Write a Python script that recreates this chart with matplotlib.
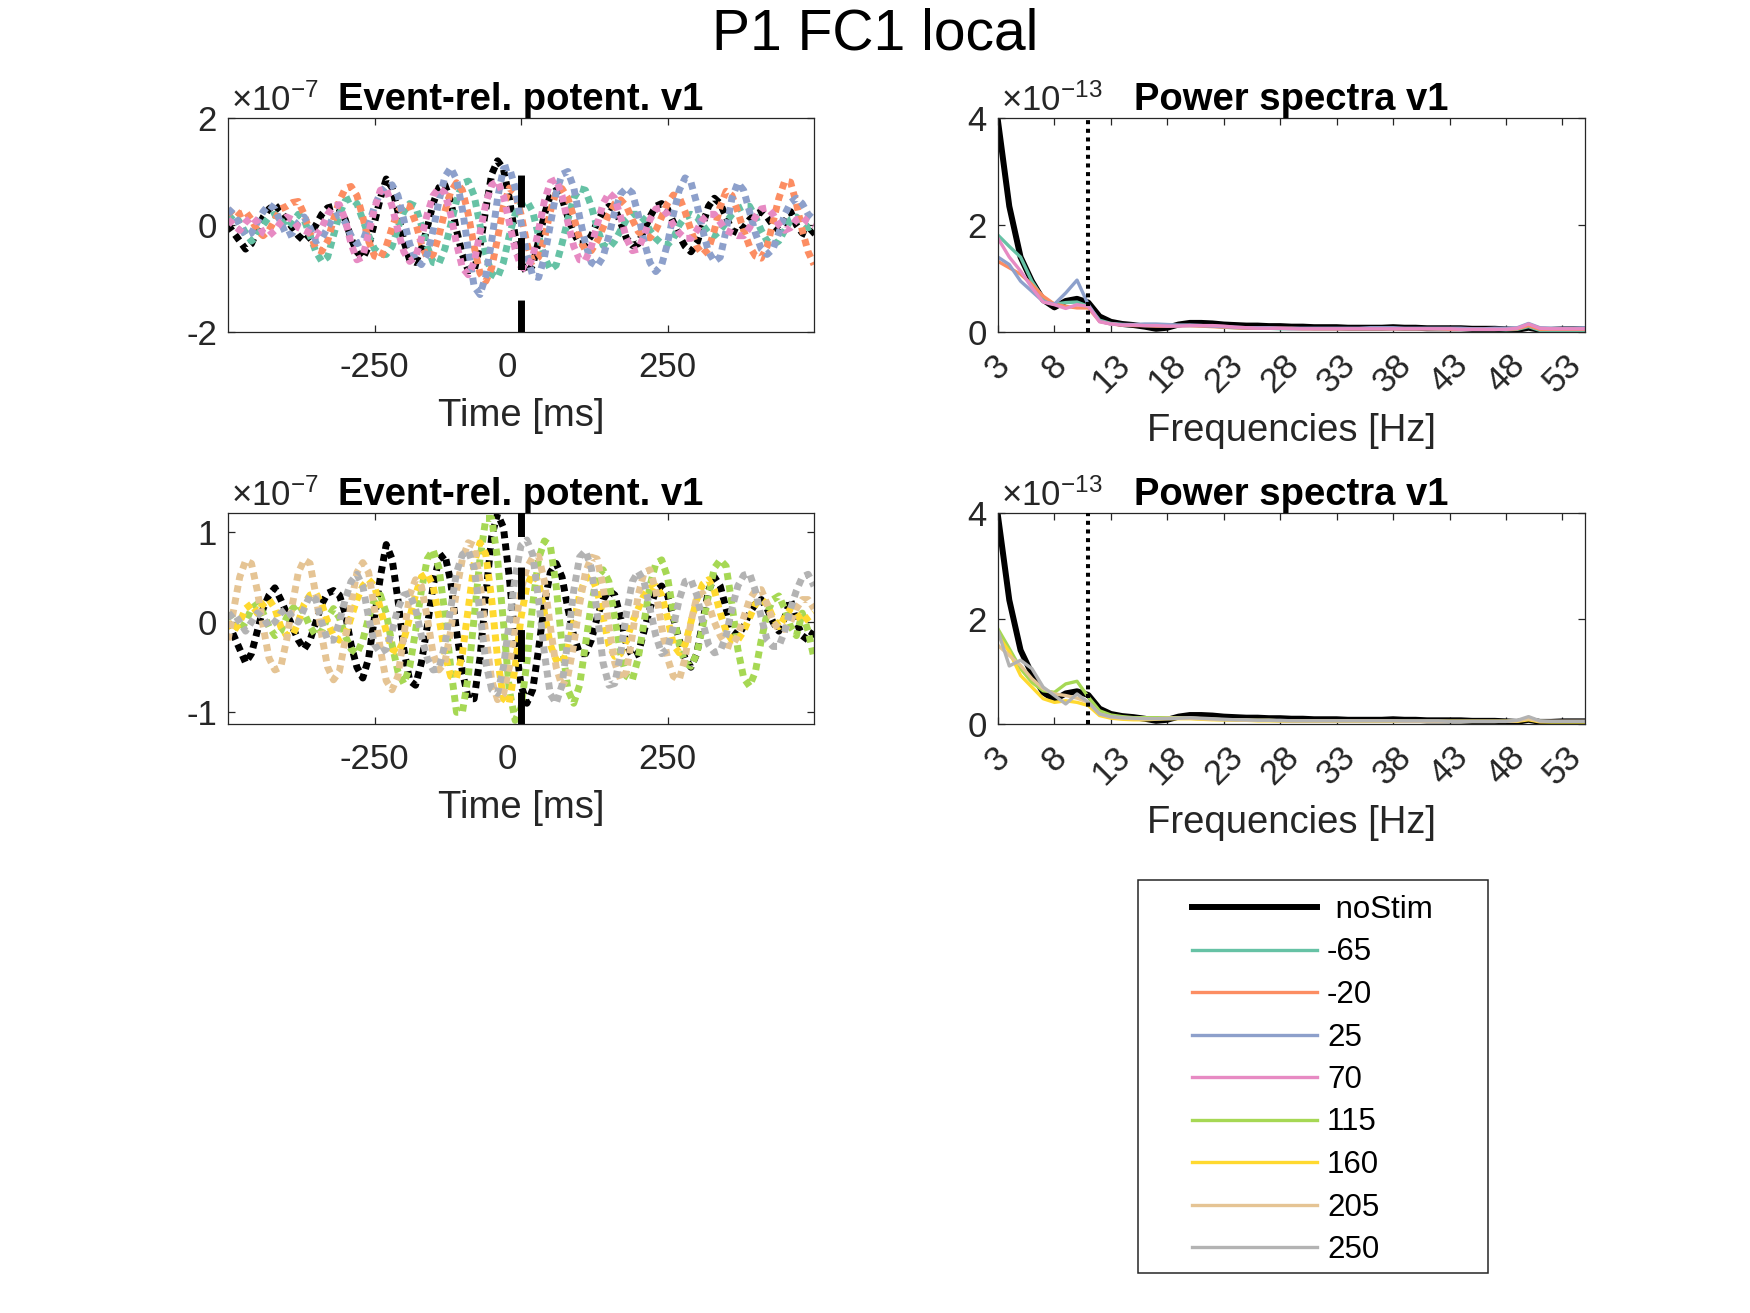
import numpy as np
import matplotlib
matplotlib.use('Agg')
import matplotlib.pyplot as plt
from matplotlib.patches import Rectangle
from matplotlib.transforms import ScaledTranslation

plt.rcParams['font.family'] = ['Liberation Sans', 'DejaVu Sans']
plt.rcParams['mathtext.fontset'] = 'custom'
plt.rcParams['mathtext.rm'] = 'Liberation Sans'
plt.rcParams['mathtext.it'] = 'Liberation Sans:italic'
plt.rcParams['mathtext.bf'] = 'Liberation Sans:bold'
plt.rcParams['axes.unicode_minus'] = False

# ---------------- data ----------------
SUPTITLE = 'P1 FC1 local'
CONDITIONS = ['-65', '-20', '25', '70', '115', '160', '205', '250']
COLORS = ['#66c2a5', '#fc8d62', '#8da0cb', '#e78ac3',
          '#a6d854', '#ffd92f', '#e5c494', '#b3b3b3']
NOSTIM_LABEL = ' noStim'

ERP_T = list(range(-500, 501, 10))          # ms
ERP_XTICKS = [-250, 0, 250]
STIM_T = 0

# ERP values in units of 1e-7
ERP_NOSTIM = [
    0.0, -0.15, -0.3, -0.45, -0.35, -0.1, 0.15, 0.3, 0.38, 0.25,
    0.1, -0.05, -0.2, -0.3, -0.2, 0.0, 0.2, 0.32, 0.35, 0.3,
    0.1, -0.25, -0.5, -0.62, -0.4, 0.05, 0.5, 0.86, 0.7, 0.25,
    -0.3, -0.65, -0.7, -0.45, -0.05, 0.4, 0.7, 0.75, 0.45, -0.1,
    -0.55, -0.85, -0.85, -0.4, 0.3, 0.95, 1.2, 1.05, 0.5, -0.2,
    -0.7, -0.9, -0.75, -0.3, 0.2, 0.55, 0.65, 0.5, 0.15, -0.15,
    -0.35, -0.35, -0.2, 0.05, 0.25, 0.35, 0.3, 0.05, -0.25, -0.38,
    -0.35, -0.1, 0.15, 0.35, 0.4, 0.3, 0.05, -0.2, -0.4, -0.5,
    -0.35, 0.0, 0.35, 0.5, 0.4, 0.15, -0.1, -0.15, -0.05, 0.1,
    0.2, 0.25, 0.15, 0.0, -0.1, 0.05, 0.25, 0.0, -0.15, -0.2,
    -0.1]
ERP_M65 = [
    0.1, 0.2, 0.05, -0.15, -0.3, -0.2, 0.0, 0.15, 0.2, 0.1,
    -0.05, 0.05, 0.2, 0.1, -0.2, -0.5, -0.68, -0.6, -0.2, 0.2,
    0.45, 0.5, 0.4, 0.1, -0.2, -0.45, -0.55, -0.55, -0.4, -0.05,
    0.25, 0.4, 0.35, 0.0, -0.4, -0.7, -0.72, -0.45, 0.0, 0.45,
    0.78, 0.82, 0.55, 0.0, -0.55, -0.92, -0.98, -0.7, -0.2, 0.2,
    0.4, 0.45, 0.25, -0.2, -0.6, -0.83, -0.75, -0.35, 0.1, 0.5,
    0.68, 0.65, 0.35, -0.05, -0.38, -0.43, -0.3, -0.1, 0.1, 0.2,
    0.2, 0.1, -0.1, -0.25, -0.35, -0.37, -0.25, 0.0, 0.15, 0.2,
    0.15, 0.0, -0.15, -0.2, -0.1, 0.05, 0.2, 0.3, 0.35, 0.35,
    0.15, -0.1, -0.3, -0.37, -0.3, -0.1, 0.1, 0.15, 0.05, -0.05,
    0.0]
ERP_M20 = [
    0.2, 0.3, 0.2, 0.25, 0.1, -0.1, -0.2, -0.1, 0.1, 0.3,
    0.35, 0.42, 0.44, 0.2, -0.15, -0.45, -0.49, -0.3, 0.1, 0.45,
    0.68, 0.72, 0.55, 0.15, -0.3, -0.58, -0.62, -0.4, -0.05, 0.25,
    0.38, 0.35, 0.05, -0.35, -0.62, -0.55, -0.2, 0.25, 0.62, 0.79,
    0.65, 0.2, -0.4, -0.9, -1.05, -0.8, -0.25, 0.35, 0.69, 0.6,
    0.2, -0.35, -0.68, -0.6, -0.25, 0.25, 0.62, 0.68, 0.5, 0.15,
    -0.25, -0.48, -0.48, -0.3, -0.05, 0.2, 0.4, 0.47, 0.35, 0.1,
    -0.12, -0.22, -0.24, -0.1, 0.15, 0.4, 0.56, 0.52, 0.25, -0.1,
    -0.4, -0.55, -0.45, -0.1, 0.35, 0.63, 0.55, 0.25, -0.1, -0.4,
    -0.58, -0.62, -0.4, 0.05, 0.5, 0.82, 0.8, 0.4, -0.1, -0.5,
    -0.74]
ERP_25 = [
    0.3, 0.2, 0.0, -0.2, -0.15, 0.05, 0.25, 0.38, 0.3, 0.05,
    -0.2, -0.15, 0.05, 0.15, -0.05, -0.3, -0.25, -0.05, 0.15, 0.2,
    0.05, -0.2, -0.35, -0.3, 0.0, 0.35, 0.6, 0.72, 0.75, 0.55,
    0.1, -0.35, -0.65, -0.74, -0.55, -0.1, 0.45, 0.9, 1.07, 0.85,
    0.3, -0.45, -1.15, -1.3, -0.95, -0.3, 0.5, 1.05, 1.08, 0.7,
    0.05, -0.55, -0.95, -0.98, -0.6, 0.0, 0.6, 0.95, 1.0, 0.7,
    0.15, -0.35, -0.7, -0.77, -0.6, -0.2, 0.25, 0.58, 0.69, 0.6,
    0.2, -0.3, -0.7, -0.87, -0.75, -0.35, 0.2, 0.65, 0.88, 0.8,
    0.4, -0.1, -0.5, -0.68, -0.6, -0.1, 0.5, 0.79, 0.65, 0.25,
    -0.15, -0.45, -0.55, -0.45, -0.15, 0.2, 0.42, 0.5, 0.4, 0.2,
    0.1]
ERP_70 = [
    0.1, 0.0, -0.1, 0.05, 0.15, 0.05, -0.15, -0.2, -0.1, 0.05,
    0.15, 0.1, -0.05, -0.1, -0.15, -0.2, -0.05, 0.2, 0.35, 0.38,
    0.1, -0.35, -0.65, -0.6, -0.15, 0.3, 0.65, 0.68, 0.35, -0.1,
    -0.5, -0.68, -0.6, -0.25, 0.2, 0.55, 0.69, 0.6, 0.2, -0.35,
    -0.8, -0.93, -0.7, -0.15, 0.4, 0.75, 0.82, 0.55, 0.05, -0.45,
    -0.78, -0.83, -0.6, -0.1, 0.45, 0.8, 0.85, 0.55, 0.05, -0.4,
    -0.65, -0.66, -0.4, 0.0, 0.4, 0.6, 0.5, 0.15, -0.25, -0.48,
    -0.45, -0.2, 0.1, 0.3, 0.32, 0.2, 0.0, -0.15, -0.25, -0.25,
    -0.1, 0.1, 0.2, 0.2, 0.05, -0.1, -0.15, -0.2, -0.2, -0.05,
    0.15, 0.3, 0.32, 0.2, 0.0, -0.1, -0.05, 0.1, 0.15, 0.05,
    0.0]
ERP_115 = [
    0.1, 0.0, -0.1, 0.0, 0.15, 0.2, 0.1, -0.05, -0.15, -0.1,
    0.05, 0.15, 0.2, 0.1, -0.05, -0.15, -0.1, 0.05, 0.15, 0.05,
    -0.15, -0.3, -0.35, -0.2, 0.05, 0.25, 0.3, 0.1, -0.25, -0.55,
    -0.68, -0.5, -0.1, 0.35, 0.7, 0.8, 0.6, 0.1, -0.5, -1.0,
    -1.0, -0.6, 0.05, 0.7, 1.15, 1.15, 0.7, 0.0, -0.75, -1.09,
    -0.95, -0.45, 0.2, 0.7, 0.9, 0.85, 0.4, -0.25, -0.75, -0.9,
    -0.7, -0.25, 0.2, 0.5, 0.58, 0.45, 0.05, -0.35, -0.6, -0.64,
    -0.4, 0.0, 0.4, 0.65, 0.69, 0.5, 0.1, -0.25, -0.45, -0.49,
    -0.35, -0.05, 0.3, 0.6, 0.69, 0.62, 0.2, -0.3, -0.62, -0.71,
    -0.55, -0.2, 0.1, 0.25, 0.29, 0.15, -0.05, -0.15, 0.1, -0.1,
    -0.4]
ERP_160 = [
    0.0, -0.1, 0.0, 0.15, 0.2, 0.1, 0.2, 0.25, 0.15, -0.05,
    -0.15, -0.15, 0.0, 0.2, 0.3, 0.32, 0.2, 0.0, -0.15, -0.2,
    -0.15, 0.05, 0.25, 0.4, 0.47, 0.4, 0.15, -0.1, -0.3, -0.34,
    -0.2, 0.05, 0.3, 0.5, 0.54, 0.4, 0.05, -0.35, -0.6, -0.62,
    -0.35, 0.15, 0.65, 0.88, 0.75, 0.25, -0.4, -0.85, -0.9, -0.5,
    0.05, 0.4, 0.54, 0.45, 0.1, -0.25, -0.42, -0.46, -0.3, 0.0,
    0.3, 0.48, 0.51, 0.35, 0.05, -0.25, -0.38, -0.35, -0.2, 0.0,
    0.15, 0.3, 0.38, 0.4, 0.3, 0.05, -0.25, -0.34, -0.25, 0.0,
    0.25, 0.42, 0.47, 0.35, 0.1, -0.1, -0.2, -0.2, -0.1, 0.05,
    0.2, 0.25, 0.2, 0.05, -0.05, 0.05, 0.15, 0.1, 0.0, 0.05,
    0.1]
ERP_205 = [
    -0.2, 0.15, 0.5, 0.68, 0.65, 0.35, -0.05, -0.4, -0.53, -0.5,
    -0.2, 0.2, 0.55, 0.69, 0.65, 0.3, -0.15, -0.5, -0.64, -0.55,
    -0.2, 0.2, 0.55, 0.66, 0.55, 0.15, -0.3, -0.65, -0.75, -0.6,
    -0.15, 0.3, 0.47, 0.4, 0.05, -0.35, -0.53, -0.45, -0.1, 0.35,
    0.7, 0.88, 0.85, 0.45, -0.15, -0.65, -0.86, -0.8, -0.5, -0.05,
    0.35, 0.6, 0.72, 0.73, 0.45, -0.05, -0.5, -0.71, -0.6, -0.25,
    0.2, 0.55, 0.72, 0.7, 0.4, -0.05, -0.45, -0.64, -0.55, -0.15,
    0.3, 0.55, 0.58, 0.35, -0.05, -0.4, -0.6, -0.64, -0.4, 0.0,
    0.28, 0.32, 0.2, 0.0, -0.15, -0.25, -0.27, -0.15, 0.05, 0.25,
    0.35, 0.36, 0.2, 0.0, -0.08, -0.08, 0.0, 0.15, 0.25, 0.25,
    0.15]
ERP_250 = [
    0.05, 0.1, 0.0, -0.1, 0.0, 0.1, 0.05, -0.05, 0.0, 0.1,
    0.15, 0.05, 0.0, 0.15, 0.3, 0.25, 0.0, -0.2, -0.2, 0.0,
    0.25, 0.45, 0.53, 0.4, 0.05, -0.25, -0.34, -0.3, -0.1, 0.15,
    0.3, 0.32, 0.15, -0.15, -0.4, -0.53, -0.52, -0.25, 0.15, 0.55,
    0.75, 0.79, 0.6, 0.1, -0.45, -0.75, -0.79, -0.5, 0.0, 0.5,
    0.85, 0.91, 0.75, 0.25, -0.35, -0.8, -0.9, -0.7, -0.2, 0.35,
    0.72, 0.79, 0.6, 0.1, -0.45, -0.7, -0.68, -0.35, 0.1, 0.45,
    0.56, 0.45, 0.15, -0.15, -0.35, -0.3, -0.05, 0.25, 0.45, 0.47,
    0.3, 0.0, -0.25, -0.34, -0.32, -0.15, 0.15, 0.4, 0.52, 0.54,
    0.35, 0.05, -0.2, -0.27, -0.27, -0.1, 0.15, 0.35, 0.5, 0.53,
    0.4]

FREQS = list(range(3, 56))                  # Hz
PSD_XTICKS = list(range(3, 54, 5))
ALPHA_F = 11

# power spectra in units of 1e-13
PSD_NOSTIM = [
    3.94, 2.35, 1.40, 0.95, 0.60, 0.46, 0.58, 0.62, 0.55, 0.29,
    0.19, 0.15, 0.13, 0.10, 0.06, 0.08, 0.14, 0.17, 0.17, 0.16,
    0.14, 0.13, 0.12, 0.12, 0.11, 0.11, 0.10, 0.10, 0.09, 0.09,
    0.09, 0.08, 0.08, 0.08, 0.08, 0.09, 0.08, 0.08, 0.07, 0.07,
    0.07, 0.07, 0.06, 0.06, 0.06, 0.05, 0.04, 0.08, 0.04, 0.04,
    0.05, 0.05, 0.05]
PSD_M65 = [
    1.81, 1.60, 1.40, 0.95, 0.63, 0.52, 0.55, 0.56, 0.48, 0.22,
    0.16, 0.14, 0.13, 0.12, 0.12, 0.12, 0.12, 0.12, 0.12, 0.11,
    0.09, 0.08, 0.07, 0.07, 0.07, 0.06, 0.06, 0.06, 0.06, 0.06,
    0.06, 0.06, 0.06, 0.06, 0.06, 0.06, 0.06, 0.06, 0.06, 0.05,
    0.05, 0.05, 0.05, 0.05, 0.05, 0.04, 0.05, 0.10, 0.03, 0.03,
    0.03, 0.03, 0.03]
PSD_M20 = [
    1.32, 1.20, 1.08, 0.89, 0.67, 0.52, 0.48, 0.45, 0.45, 0.20,
    0.15, 0.13, 0.12, 0.12, 0.11, 0.11, 0.12, 0.12, 0.11, 0.10,
    0.09, 0.08, 0.07, 0.07, 0.07, 0.07, 0.07, 0.06, 0.06, 0.06,
    0.06, 0.06, 0.06, 0.06, 0.06, 0.06, 0.06, 0.06, 0.06, 0.06,
    0.05, 0.05, 0.05, 0.05, 0.05, 0.05, 0.06, 0.12, 0.05, 0.05,
    0.05, 0.05, 0.05]
PSD_25 = [
    1.40, 1.26, 0.95, 0.76, 0.57, 0.52, 0.73, 0.97, 0.51, 0.20,
    0.15, 0.14, 0.14, 0.15, 0.15, 0.14, 0.13, 0.13, 0.12, 0.11,
    0.10, 0.09, 0.08, 0.08, 0.08, 0.07, 0.07, 0.07, 0.07, 0.07,
    0.07, 0.07, 0.07, 0.08, 0.08, 0.08, 0.07, 0.07, 0.07, 0.07,
    0.07, 0.07, 0.06, 0.06, 0.07, 0.07, 0.08, 0.16, 0.08, 0.07,
    0.07, 0.07, 0.08]
PSD_70 = [
    1.75, 1.40, 1.14, 0.83, 0.56, 0.51, 0.44, 0.51, 0.48, 0.19,
    0.15, 0.13, 0.13, 0.12, 0.12, 0.11, 0.11, 0.12, 0.12, 0.12,
    0.11, 0.09, 0.08, 0.07, 0.07, 0.07, 0.06, 0.06, 0.06, 0.06,
    0.06, 0.06, 0.06, 0.06, 0.06, 0.06, 0.06, 0.06, 0.06, 0.06,
    0.06, 0.05, 0.05, 0.05, 0.05, 0.05, 0.07, 0.15, 0.07, 0.06,
    0.06, 0.06, 0.06]
PSD_115 = [
    1.80, 1.43, 1.05, 0.79, 0.63, 0.60, 0.76, 0.81, 0.51, 0.25,
    0.17, 0.14, 0.12, 0.12, 0.12, 0.12, 0.12, 0.11, 0.10, 0.09,
    0.08, 0.08, 0.07, 0.07, 0.07, 0.06, 0.06, 0.06, 0.06, 0.06,
    0.06, 0.06, 0.05, 0.05, 0.05, 0.05, 0.05, 0.05, 0.05, 0.05,
    0.05, 0.05, 0.05, 0.05, 0.05, 0.05, 0.06, 0.10, 0.05, 0.04,
    0.04, 0.04, 0.04]
PSD_160 = [
    1.68, 1.37, 0.92, 0.70, 0.48, 0.41, 0.44, 0.41, 0.35, 0.16,
    0.11, 0.09, 0.08, 0.08, 0.09, 0.10, 0.10, 0.10, 0.09, 0.08,
    0.08, 0.07, 0.07, 0.06, 0.06, 0.06, 0.05, 0.05, 0.05, 0.05,
    0.05, 0.05, 0.05, 0.05, 0.05, 0.05, 0.05, 0.05, 0.05, 0.05,
    0.05, 0.05, 0.05, 0.05, 0.05, 0.05, 0.05, 0.08, 0.04, 0.04,
    0.04, 0.04, 0.04]
PSD_205 = [
    1.49, 1.30, 1.11, 0.86, 0.67, 0.57, 0.54, 0.49, 0.41, 0.19,
    0.13, 0.11, 0.10, 0.10, 0.10, 0.11, 0.11, 0.11, 0.10, 0.09,
    0.08, 0.08, 0.07, 0.07, 0.07, 0.06, 0.06, 0.06, 0.06, 0.06,
    0.06, 0.06, 0.06, 0.06, 0.06, 0.06, 0.05, 0.05, 0.05, 0.05,
    0.05, 0.05, 0.05, 0.05, 0.05, 0.05, 0.06, 0.10, 0.05, 0.05,
    0.05, 0.05, 0.05]
PSD_250 = [
    1.76, 1.10, 1.21, 1.05, 0.70, 0.54, 0.38, 0.57, 0.41, 0.19,
    0.14, 0.12, 0.11, 0.10, 0.10, 0.10, 0.11, 0.12, 0.11, 0.10,
    0.09, 0.08, 0.08, 0.07, 0.07, 0.07, 0.06, 0.06, 0.06, 0.06,
    0.06, 0.06, 0.06, 0.06, 0.06, 0.06, 0.06, 0.06, 0.06, 0.06,
    0.05, 0.05, 0.05, 0.05, 0.05, 0.05, 0.07, 0.14, 0.06, 0.05,
    0.05, 0.05, 0.05]

ERP_TOP = [ERP_M65, ERP_M20, ERP_25, ERP_70]
ERP_BOT = [ERP_115, ERP_160, ERP_205, ERP_250]
PSD_TOP = [PSD_M65, PSD_M20, PSD_25, PSD_70]
PSD_BOT = [PSD_115, PSD_160, PSD_205, PSD_250]

# ---------------- figure ----------------
W, H = 1750, 1313
fig = plt.figure(figsize=(W / 100, H / 100), dpi=100)
AX_COL = '#262626'


def px_axes(l, t, r, b):
    return fig.add_axes([l / W, 1 - b / H, (r - l) / W, (b - t) / H])


def style(ax, xpad):
    for s in ax.spines.values():
        s.set_color(AX_COL)
        s.set_linewidth(0.9)
    ax.tick_params(direction='in', top=True, right=True, length=5, width=0.9,
                   colors=AX_COL, labelsize=25)
    ax.tick_params(axis='y', pad=8)
    ax.tick_params(axis='x', pad=xpad)


def exponent(ax, txt):
    ax.text(0.005, 1.0 + 7 / 214, txt, transform=ax.transAxes, fontsize=25,
            color=AX_COL, ha='left', va='baseline')


DOT = (0, (1.0, 0.75))


def erp_panel(ax, traces, colors, ylim, yticks):
    ax.plot(ERP_T, ERP_NOSTIM, color='k', lw=5, linestyle=DOT,
            dash_capstyle='butt')
    for vals, col in zip(traces, colors):
        ax.plot(ERP_T, vals, color=col, lw=5, linestyle=DOT,
                dash_capstyle='butt')
    ax.set_xlim(-500, 500)
    ax.set_ylim(*ylim)
    ax.set_xticks(ERP_XTICKS)
    ax.set_yticks(yticks)
    style(ax, 14)
    # MATLAB places the '0' label slightly left of its tick
    lbls = ax.get_xticklabels()
    lbls[1].set_transform(lbls[1].get_transform() +
                          ScaledTranslation(-14 / 100, 0, fig.dpi_scale_trans))
    ax.set_xlabel('Time [ms]', fontsize=27.5, color=AX_COL, labelpad=10)
    ax.set_title('Event-rel. potent. v1', fontsize=27.5, fontweight='bold',
                 pad=6)
    exponent(ax, r'$\times10^{-7}$')


def psd_panel(ax, traces, colors):
    lines = [ax.plot(FREQS, PSD_NOSTIM, color='k', lw=4.3)[0]]
    for vals, col in zip(traces, colors):
        lines.append(ax.plot(FREQS, vals, color=col, lw=2.4)[0])
    ax.axvline(ALPHA_F, color='k', lw=2.9, linestyle=(0, (1, 1.15)), zorder=5)
    ax.set_xlim(3, 55)
    ax.set_ylim(0, 4)
    ax.set_xticks(PSD_XTICKS)
    ax.set_yticks([0, 2, 4])
    style(ax, 12)
    ax.tick_params(axis='x', labelrotation=45)
    ax.set_xlabel('Frequencies [Hz]', fontsize=27.5, color=AX_COL,
                  labelpad=9.5)
    ax.set_title('Power spectra v1', fontsize=27.5, fontweight='bold', pad=6)
    exponent(ax, r'$\times10^{-13}$')
    return lines


ax_erp1 = px_axes(228, 118, 814, 332)
ax_psd1 = px_axes(998, 118, 1585, 332)
ax_erp2 = px_axes(228, 513, 814, 724)
ax_psd2 = px_axes(998, 513, 1585, 724)

erp_panel(ax_erp1, ERP_TOP, COLORS[:4], (-2, 2), [-2, 0, 2])
ax_erp1.plot([STIM_T, STIM_T], [-2, 1.0], color='k', lw=5,
             linestyle=(0, (4.6, 4.4)), dash_capstyle='butt', zorder=5)
erp_panel(ax_erp2, ERP_BOT, COLORS[4:], (-1.13, 1.21), [-1, 0, 1])
ax_erp2.plot([STIM_T, STIM_T], [-1.13, 1.3], color='k', lw=5,
             linestyle=(0, (4.6, 4.4)), dash_capstyle='butt', zorder=5)

l1 = psd_panel(ax_psd1, PSD_TOP, COLORS[:4])
l2 = psd_panel(ax_psd2, PSD_BOT, COLORS[4:])

fig.suptitle(SUPTITLE, fontsize=41, y=1 - 35 / H, va='center')

handles = l1 + l2[1:]
labels = [NOSTIM_LABEL] + CONDITIONS
fig.legend(handles, labels, loc='upper left',
           bbox_to_anchor=(1192 / W, 1 - 895 / H), frameon=False,
           fontsize=22.5, handlelength=4.0, handletextpad=0.32,
           labelspacing=0.40, borderpad=0, borderaxespad=0)
fig.add_artist(Rectangle((1138 / W, 1 - 1273 / H), 350 / W, 393 / H,
                         transform=fig.transFigure, fill=False,
                         edgecolor=AX_COL, lw=1.1))

fig.savefig('out.png', dpi=100)
